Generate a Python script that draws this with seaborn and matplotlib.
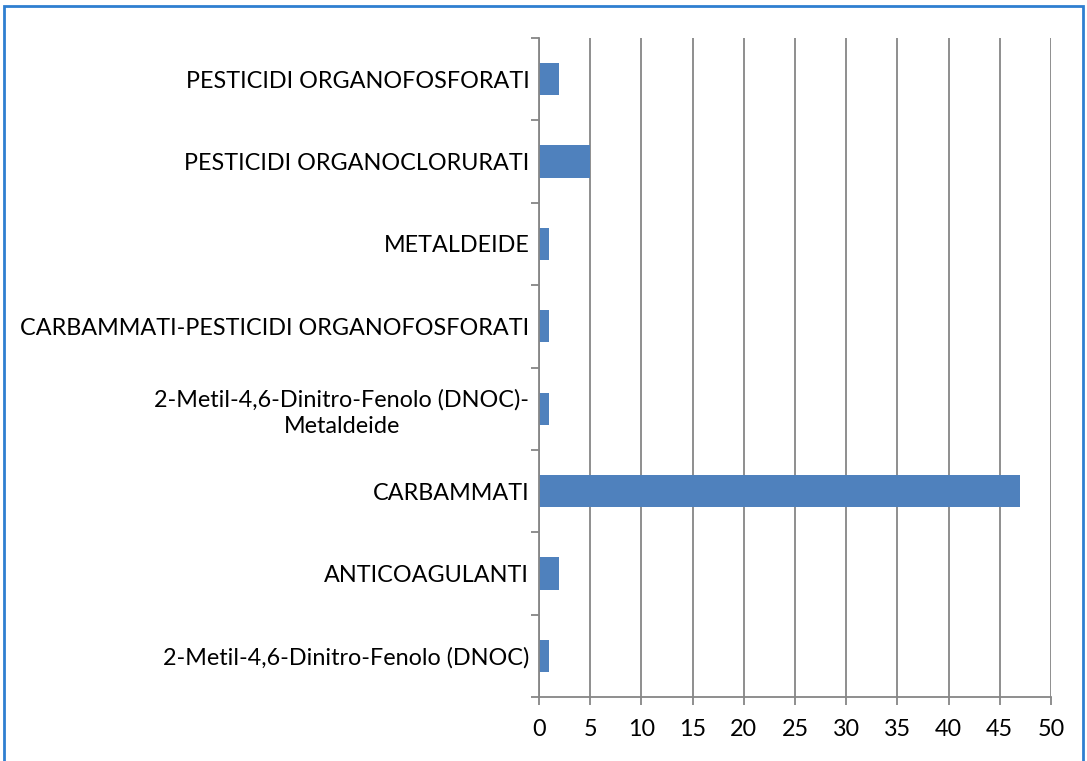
import matplotlib
matplotlib.use("Agg")
import matplotlib.pyplot as plt
import seaborn as sns
import pandas as pd
from matplotlib.patches import Rectangle

categories = [
    "PESTICIDI ORGANOFOSFORATI",
    "PESTICIDI ORGANOCLORURATI",
    "METALDEIDE",
    "CARBAMMATI-PESTICIDI ORGANOFOSFORATI",
    "2-Metil-4,6-Dinitro-Fenolo (DNOC)-\nMetaldeide",
    "CARBAMMATI",
    "ANTICOAGULANTI",
    "2-Metil-4,6-Dinitro-Fenolo (DNOC)",
]
values = [2, 5, 1, 1, 1, 47, 2, 1]
x_ticks = [0, 5, 10, 15, 20, 25, 30, 35, 40, 45, 50]

df = pd.DataFrame({"cat": categories, "val": values})

sns.set_theme(style="white")
plt.rcParams["font.family"] = ["Lato", "DejaVu Sans"]

fig = plt.figure(figsize=(10.87, 7.61), dpi=100)
ax = fig.add_axes([539 / 1087, 1 - 697 / 761, (1051 - 539) / 1087, (697 - 38) / 761])

sns.barplot(data=df, x="val", y="cat", orient="h", color="#4F81BD",
            saturation=1, width=0.39, ax=ax, order=categories,
            linewidth=0, edgecolor="none")

grid_c = "#868686"
ax.set_xlim(0, 50)
ax.set_ylim(len(categories) - 0.5, -0.5)
ax.set_xticks(x_ticks)
ax.set_xticklabels([str(t) for t in x_ticks])
ax.xaxis.grid(True, color=grid_c, linewidth=1.3)
ax.set_axisbelow(True)
ax.set_xlabel("")
ax.set_ylabel("")

for s in ["top", "right"]:
    ax.spines[s].set_visible(False)
for s in ["left", "bottom"]:
    ax.spines[s].set_color(grid_c)
    ax.spines[s].set_linewidth(1.3)

ax.set_yticks(range(len(categories)))
ax.set_yticklabels(categories, multialignment="center", linespacing=1.3)
ax.set_yticks([i - 0.5 for i in range(len(categories) + 1)], minor=True)
ax.tick_params(axis="y", which="major", length=0, pad=7, labelsize=16.8, labelcolor="black")
ax.tick_params(axis="y", which="minor", length=6, width=1.3, color=grid_c, left=True)
ax.tick_params(axis="x", which="major", length=6, width=1.3, color=grid_c, bottom=True,
               labelsize=16.8, labelcolor="black", pad=10)

fig.patches.append(Rectangle((4 / 1087, -0.01), (1083 - 4) / 1087, 1 - 6 / 761 + 0.01,
                             transform=fig.transFigure, fill=False,
                             edgecolor="#2F7FD0", linewidth=2, zorder=10))

fig.savefig("out.png", dpi=100, facecolor="white")
